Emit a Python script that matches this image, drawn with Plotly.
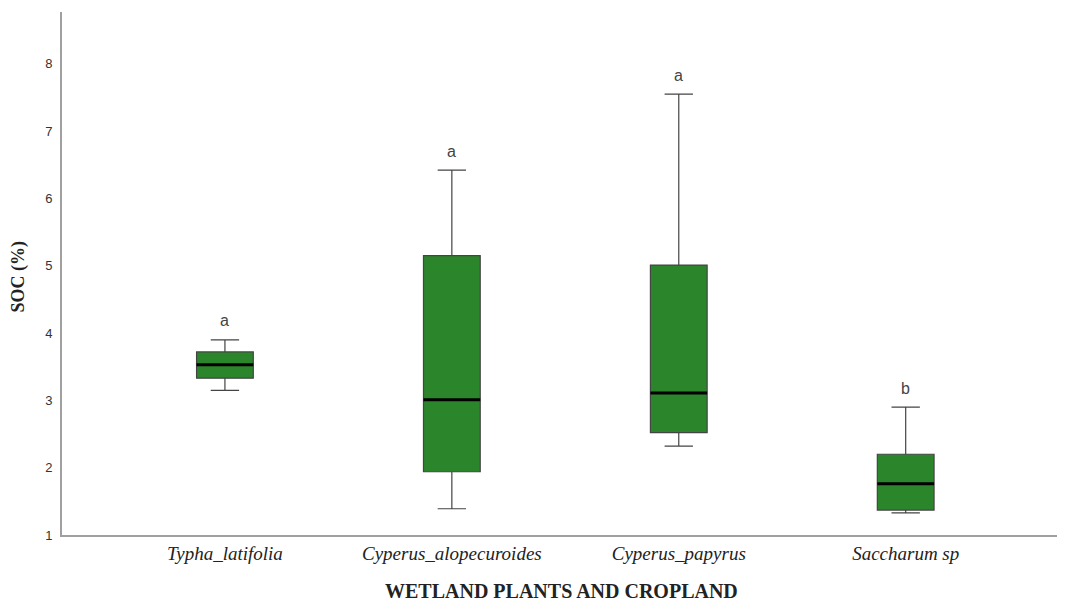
import plotly.graph_objects as go

categories = ["Typha_latifolia", "Cyperus_alopecuroides", "Cyperus_papyrus", "Saccharum sp"]
lower_whisker = [3.15, 1.39, 2.32, 1.33]
q1 = [3.33, 1.94, 2.52, 1.37]
median = [3.53, 3.01, 3.11, 1.76]
q3 = [3.72, 5.15, 5.01, 2.20]
upper_whisker = [3.90, 6.42, 7.55, 2.90]
letters = ["a", "a", "a", "b"]
y_ticks = [1, 2, 3, 4, 5, 6, 7, 8]

xpos = list(range(len(categories)))
box_w = 0.25

fig = go.Figure()
fig.add_trace(go.Box(
    x=xpos, q1=q1, median=median, q3=q3,
    lowerfence=lower_whisker, upperfence=upper_whisker,
    width=box_w, whiskerwidth=0.5,
    fillcolor="#2b862b",
    line=dict(color="#444444", width=1.2),
    boxpoints=False, showlegend=False, hoverinfo="skip",
))

# thick median lines
for i, m in zip(xpos, median):
    fig.add_trace(go.Scatter(
        x=[i - box_w / 2, i + box_w / 2], y=[m, m], mode="lines",
        line=dict(color="black", width=3), showlegend=False, hoverinfo="skip",
    ))

for i, (u, t) in enumerate(zip(upper_whisker, letters)):
    fig.add_annotation(x=i, y=u, text=t, showarrow=False, yshift=19,
                       font=dict(family="Liberation Sans", size=16, color="#444444"))

# axis titles
fig.add_annotation(xref="paper", yref="paper", x=0.5, y=0, yshift=-56,
                   xanchor="center", yanchor="middle", showarrow=False,
                   text="<b>WETLAND PLANTS AND CROPLAND</b>",
                   font=dict(family="Liberation Serif", size=20, color="#222222"))
fig.add_annotation(xref="paper", yref="paper", x=0, y=0.5, xshift=-44, yshift=-3,
                   xanchor="center", yanchor="middle", showarrow=False, textangle=-90,
                   text="<b>SOC (%)</b>",
                   font=dict(family="Liberation Serif", size=18, color="#222222"))

fig.update_layout(
    width=1057, height=593,
    margin=dict(l=54, r=5, t=4, b=66, autoexpand=False),
    paper_bgcolor="white", plot_bgcolor="white",
    xaxis=dict(
        range=[-0.718, 3.68], tickvals=xpos, ticktext=categories, automargin=False,
        showgrid=False, zeroline=False, showline=True, linecolor="#a0a0a0", linewidth=2,
        ticks="", tickfont=dict(family="Liberation Serif", size=19, color="#222222", style="italic"),
    ),
    yaxis=dict(
        range=[1, 8.77], tickvals=y_ticks, automargin=False,
        showgrid=False, zeroline=False, showline=True, linecolor="#a0a0a0", linewidth=2,
        ticks="", ticklabelstandoff=5,
        tickfont=dict(family="Liberation Sans", size=13, color="#333333"),
    ),
)

fig.write_html("out.html")
